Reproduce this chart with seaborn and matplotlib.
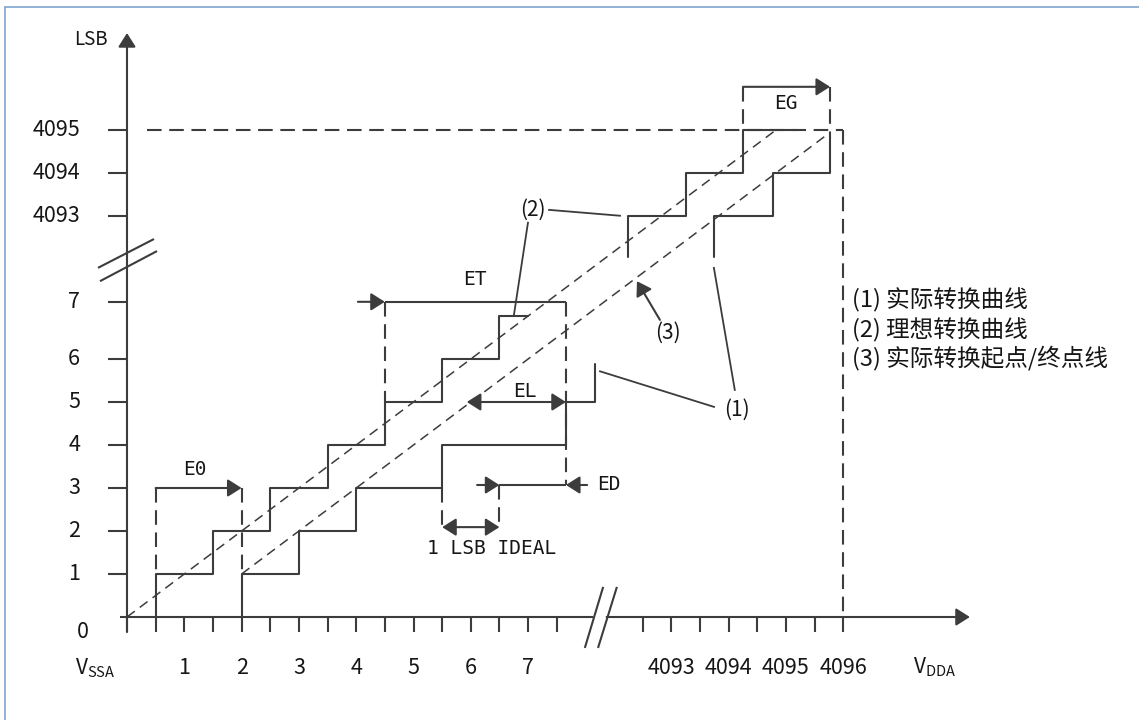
import matplotlib
matplotlib.use("Agg")
import matplotlib.pyplot as plt
from matplotlib.lines import Line2D
import seaborn as sns

# ---------------- data (diagram units: 1 x-unit = 1 LSB of input, 1 y-unit = 1 code) -------------
# x axis has a break between 7.5 and 9; y axis has a break between 7.33 and 9.33
x_tick_pos = [0, 0.5, 1, 1.5, 2, 2.5, 3, 3.5, 4, 4.5, 5, 5.5, 6, 6.5, 7, 7.5,
              9, 9.5, 10, 10.5, 11, 11.5, 12, 12.5]
x_label_pos = [1, 2, 3, 4, 5, 6, 7, 9.5, 10.5, 11.5, 12.5]
x_labels = ["1", "2", "3", "4", "5", "6", "7", "4093", "4094", "4095", "4096"]
y_tick_pos = [1, 2, 3, 4, 5, 6, 7.33, 9.33, 10.33, 11.33]
y_labels = ["1", "2", "3", "4", "5", "6", "7", "4093", "4094", "4095"]

# (2) ideal transfer curve (upper staircase)
ideal_lo_x = [0.5, 0.5, 1.5, 1.5, 2.5, 2.5, 3.5, 3.5, 4.5, 4.5, 5.5, 5.5, 6.5, 6.5, 7.0]
ideal_lo_y = [0, 1, 1, 2, 2, 3, 3, 4, 4, 5, 5, 6, 6, 7, 7]
ideal_hi_x = [8.75, 8.75, 9.75, 9.75, 10.75, 10.75, 11.7]
ideal_hi_y = [8.37, 9.33, 9.33, 10.33, 10.33, 11.33, 11.33]

# (1) actual transfer curve (lower staircase)
actual_lo_x = [2, 2, 3, 3, 4, 4, 5.5, 5.5, 7.66, 7.66, 8.17, 8.17]
actual_lo_y = [0, 1, 1, 2, 2, 3, 3, 4, 4, 5, 5, 5.88]
actual_hi_x = [10.24, 10.24, 11.27, 11.27, 12.27, 12.27]
actual_hi_y = [8.37, 9.33, 9.33, 10.33, 10.33, 11.26]

# dashed reference lines
ideal_diag_x = [0, 11.3]
ideal_diag_y = [0, 11.3]
actual_diag_x = [2, 12.27]
actual_diag_y = [1, 11.27]

legend_lines = ["(1) 实际转换曲线", "(2) 理想转换曲线", "(3) 实际转换起点/终点线"]

# ---------------- styling ----------------
sns.set_theme(style="white")
plt.rcParams["font.family"] = ["Noto Sans CJK SC", "DejaVu Sans"]
plt.rcParams["lines.scale_dashes"] = False
C = "#3c3c3c"
TXT = "#161616"
LW = 1.5
DASH = (0, (10.5, 5.5))
DDIAG = (0, (7, 4.5))
MONO = ["DejaVu Sans Mono"]

fig = plt.figure(figsize=(11.39, 7.2), dpi=100)
ax = fig.add_axes([0, 0, 1, 1])
ax.set_xlim(-127 / 57.3, (1139 - 127) / 57.3)
ax.set_ylim(-(720 - 617) / 43, 617 / 43)
ax.axis("off")

def seg(xs, ys, ls="-", lw=LW, **kw):
    ax.plot(xs, ys, color=C, lw=lw, linestyle=ls, solid_capstyle="butt", **kw)

def arrow(tail, tip, style="-|>"):
    ax.annotate("", xy=tip, xytext=tail,
                arrowprops=dict(arrowstyle=f"{style},head_length=0.6,head_width=0.38",
                                mutation_scale=14, color=C, lw=LW,
                                shrinkA=0, shrinkB=0))

def label(x, y, s, ha="center", mono=True, size=14):
    ax.text(x, y, s, ha=ha, va="center", fontsize=size, color=TXT,
            family=MONO if mono else None)

# axes
arrow((0, -0.35), (0, 13.58))
seg([-0.12, 8.14], [0, 0])
arrow((8.37, 0), (14.71, 0))
for xt in x_tick_pos:
    seg([xt, xt], [0, -0.35])
for yt in y_tick_pos:
    seg([-0.33, 0], [yt, yt])
# break marks
seg([7.99, 8.31], [-0.72, 0.70])
seg([8.22, 8.55], [-0.72, 0.70])
seg([-0.506, 0.471], [8.12, 8.79])
seg([-0.471, 0.524], [7.81, 8.51])

# tick labels
for p, l in zip(x_label_pos, x_labels):
    ax.text(p, -1.19, l, ha="center", va="center", fontsize=15.5, color=TXT)
for p, l in zip(y_tick_pos, y_labels):
    ax.text(-0.82, p, l, ha="right", va="center", fontsize=15.5, color=TXT)
ax.text(-0.66, -0.35, "0", ha="right", va="center", fontsize=15.5, color=TXT)
ax.text(-0.63, 13.42, "LSB", ha="center", va="center", fontsize=13.5, color=TXT)
ax.text(-0.56, -1.19, r"$\mathregular{V_{SSA}}$", ha="center", va="center", fontsize=15, color=TXT)
ax.text(14.1, -1.17, r"$\mathregular{V_{DDA}}$", ha="center", va="center", fontsize=15, color=TXT)

# frame dashed lines at full scale
seg([0.35, 12.5], [11.33, 11.33], ls=DASH)
seg([12.5, 12.5], [11.33, 0], ls=DASH)

# diagonals
seg(ideal_diag_x, ideal_diag_y, ls=DDIAG, lw=1.1)
seg(actual_diag_x, actual_diag_y, ls=DDIAG, lw=1.1)

# staircases via seaborn
for xs, ys in [(ideal_lo_x, ideal_lo_y), (ideal_hi_x, ideal_hi_y),
               (actual_lo_x, actual_lo_y), (actual_hi_x, actual_hi_y)]:
    sns.lineplot(x=xs, y=ys, sort=False, estimator=None, ax=ax, color=C, linewidth=LW)

# E0
seg([0.5, 0.5], [3, 1], ls=DASH)
seg([2, 2], [3, 1], ls=DASH)
arrow((0.5, 3), (2, 3))
label(1.19, 3.42, "E0")

# ET
arrow((4.03, 7.33), (4.5, 7.33))
seg([4.5, 7.66], [7.33, 7.33])
seg([4.5, 4.5], [7.33, 5], ls=DASH)
seg([7.66, 7.66], [7.33, 3.07], ls=DASH)
label(6.07, 7.84, "ET")

# EL
arrow((5.93, 5), (7.66, 5), style="<|-|>")
label(6.95, 5.25, "EL")

# ED
arrow((6.11, 3.07), (6.5, 3.07))
seg([6.5, 7.66], [3.07, 3.07])
arrow((8.03, 3.07), (7.66, 3.07))
label(8.2, 3.07, "ED", ha="left")

# 1 LSB ideal
seg([5.5, 5.5], [3, 2.09], ls=DASH)
seg([6.5, 6.5], [3.07, 2.09], ls=DASH)
arrow((5.5, 2.09), (6.5, 2.09), style="<|-|>")
label(6.36, 1.6, "1 LSB IDEAL")

# EG
seg([10.75, 10.75], [12.33, 11.33], ls=DASH)
seg([12.27, 12.27], [12.33, 11.26], ls=DASH)
arrow((10.75, 12.33), (12.27, 12.33))
label(11.5, 11.95, "EG")

# leaders
label(7.09, 9.47, "(2)", mono=False, size=15)
seg([7.35, 8.62], [9.47, 9.33], lw=1.3)
seg([7.0, 6.75], [9.19, 7.0], lw=1.3)
label(10.65, 4.81, "(1)", mono=False, size=15)
seg([10.26, 8.24], [4.88, 5.72], lw=1.3)
seg([10.61, 10.24], [5.26, 8.14], lw=1.3)
label(9.44, 6.6, "(3)", mono=False, size=15)
arrow((9.30, 6.91), (8.90, 7.81))

# legend text
for yy, t in zip([7.37, 6.67, 6.02], legend_lines):
    ax.text(12.65, yy, t, ha="left", va="center", fontsize=17, color=TXT)

# thin light-blue frame (top and left)
fig.add_artist(Line2D([5 / 1139, 1], [1 - 7 / 720, 1 - 7 / 720], color="#7ea6cf", lw=1.2))
fig.add_artist(Line2D([5 / 1139, 5 / 1139], [0, 1 - 7 / 720], color="#7ea6cf", lw=1.2))

fig.savefig("out.png", dpi=100)
